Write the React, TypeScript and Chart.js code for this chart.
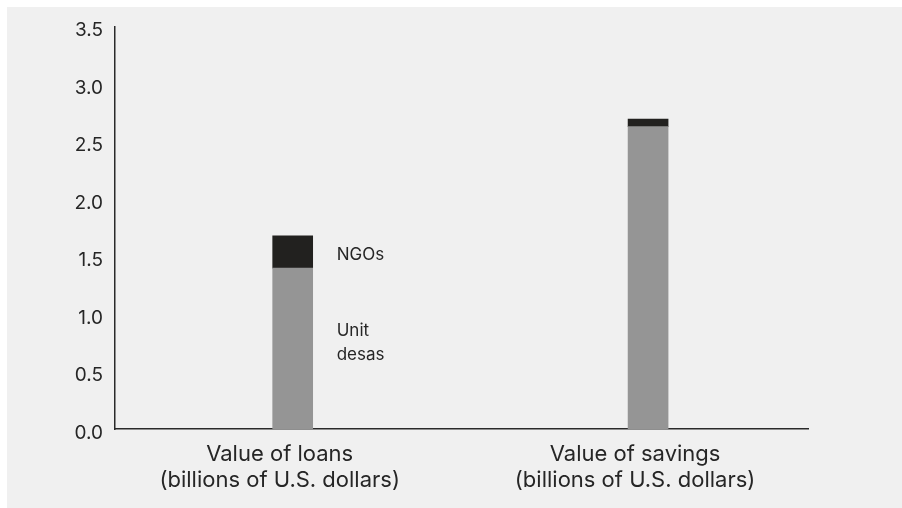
import React, { useEffect, useRef } from "react";
import { Chart, registerables } from "chart.js";

Chart.register(...registerables);

// ---- data ----
const categories: string[][] = [
  ["Value of loans", "(billions of U.S. dollars)"],
  ["Value of savings", "(billions of U.S. dollars)"],
];
const seriesNames: string[] = ["Unit desas", "NGOs"];
const unitDesas: number[] = [1.4, 2.63];
const ngos: number[] = [0.28, 0.065];
const yTickValues: number[] = [0, 0.5, 1, 1.5, 2, 2.5, 3, 3.5];
const annotationLabels: string[][] = [["Unit", "desas"], ["NGOs"]];

const FONT = "Inter, 'Liberation Sans', sans-serif";
const TEXT = "#262626";
const AXIS = "#2a2a2a";

const segmentLabels = {
  id: "segmentLabels",
  afterDatasetsDraw(chart: any) {
    const ctx = chart.ctx;
    ctx.save();
    ctx.font = `17px ${FONT}`;
    ctx.fillStyle = TEXT;
    ctx.textAlign = "left";
    ctx.textBaseline = "middle";
    const lh = 24;
    annotationLabels.forEach((lines, di) => {
      const bar: any = chart.getDatasetMeta(di).data[0];
      if (!bar) return;
      const { x, y, base, width } = bar.getProps(["x", "y", "base", "width"], true);
      const tx = x + width / 2 + 24;
      const mid = (y + base) / 2 + (di === 0 ? -6 : 3);
      const start = mid - ((lines.length - 1) * lh) / 2;
      lines.forEach((t, i) => ctx.fillText(t, tx, start + i * lh));
    });
    ctx.restore();
  },
};

export default function App() {
  const ref = useRef<HTMLCanvasElement | null>(null);

  useEffect(() => {
    if (!ref.current) return;
    const chart = new Chart(ref.current, {
      type: "bar",
      data: {
        datasets: [
          {
            label: seriesNames[0],
            data: unitDesas.map((v, i) => ({ x: i, y: v })),
            backgroundColor: "#959595",
            barThickness: 40,
          },
          {
            label: seriesNames[1],
            data: ngos.map((v, i) => ({ x: i, y: v })),
            backgroundColor: "#22211f",
            barThickness: 40,
          },
        ],
      },
      options: {
        responsive: false,
        animation: false,
        layout: { padding: { left: 0, right: 94, top: 19, bottom: 2 } },
        plugins: {
          legend: { display: false },
          tooltip: { enabled: false },
        },
        scales: {
          x: {
            type: "linear",
            stacked: true,
            offset: false,
            min: -0.5,
            max: 1.45,
            grid: { display: false, offset: false, drawTicks: false },
            border: { display: true, color: AXIS, width: 1.5 },
            afterBuildTicks: (scale: any) => {
              scale.ticks = categories.map((_, i) => ({ value: i }));
            },
            ticks: {
              autoSkip: false,
              maxRotation: 0,
              labelOffset: -13,
              padding: 12,
              color: TEXT,
              font: { family: FONT, size: 22, lineHeight: 1.2 },
              callback: (v: any) => categories[Number(v)] ?? "",
            },
          },
          y: {
            stacked: true,
            min: 0,
            max: 3.5,
            grid: { display: false, drawTicks: false },
            border: { display: true, color: AXIS, width: 1.5 },
            afterBuildTicks: (scale: any) => {
              scale.ticks = yTickValues.map((v) => ({ value: v }));
            },
            afterFit: (scale: any) => {
              scale.width = 108;
            },
            ticks: {
              padding: 12,
              labelOffset: 4,
              color: TEXT,
              font: { family: FONT, size: 19, lineHeight: 0.8 },
              callback: (v: any) => Number(v).toFixed(1),
            },
          },
        },
      },
      plugins: [segmentLabels],
    });
    return () => chart.destroy();
  }, []);

  return (
    <div
      style={{
        position: "fixed",
        left: 7,
        top: 7,
        right: 0,
        bottom: 0,
        background: "#f0f0f0",
      }}
    >
      <canvas ref={ref} width={895} height={501} style={{ display: "block" }} />
    </div>
  );
}
